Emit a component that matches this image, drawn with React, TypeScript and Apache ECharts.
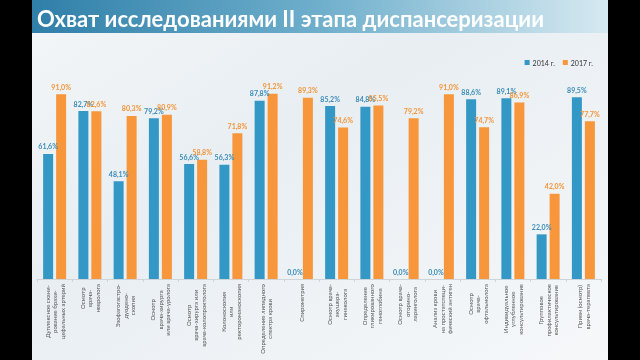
import React, { useEffect, useRef } from "react";
import * as echarts from "echarts";

const categories = [
  "Дуплексное скани-\nрование брахи-\nцефальных артерий",
  "Осмотр\nврача-\nневролога",
  "Эзофагогастро-\nдуодено-\nскопия",
  "Осмотр\nврача-хирурга\nили врача-уролога",
  "Осмотр\nврача-хирурга или\nврача-колопроктолога",
  "Колоноскопия\nили\nректороманоскопия",
  "Определение липидного\nспектра крови",
  "Спирометрия",
  "Осмотр врача-\nакушера-\nгинеколога",
  "Определение\nгликированного\nгемоглобина",
  "Осмотр врача-\nоторино-\nларинголога",
  "Анализ крови\nна простатспеци-\nфический антиген",
  "Осмотр\nврача-\nофтальмолога",
  "Индивидуальное\nуглубленное\nконсультирование",
  "Групповое\nпрофилактическое\nконсультирование",
  "Прием (осмотр)\nврача-терапевта",
];

const values2014 = [61.6, 82.7, 48.1, 79.2, 56.6, 56.3, 87.8, 0.0, 85.2, 84.8, 0.0, 0.0, 88.6, 89.1, 22.0, 89.5];
const values2017 = [91.0, 82.6, 80.3, 80.9, 58.8, 71.8, 91.2, 89.3, 74.6, 85.5, 79.2, 91.0, 74.7, 86.9, 42.0, 77.7];

const seriesNames = ["2014 г.", "2017 г."];
const title = "Охват исследованиями II этапа диспансеризации";

const BLUE = "#3498c6";
const ORANGE = "#f7963b";
const FONT = "Lato, 'Open Sans', sans-serif";

const fmt = (v: number) => v.toFixed(1).replace(".", ",") + "%";

export default function App() {
  const ref = useRef<HTMLDivElement>(null);
  useEffect(() => {
    if (!ref.current) return;
    const chart = echarts.init(ref.current, null, { renderer: "svg" });
    chart.setOption({
      animation: false,
      textStyle: { fontFamily: FONT },
      graphic: [
        { type: "rect", left: 0, top: 0, z: -10, shape: { width: 640, height: 360 }, style: { fill: "#000" } },
        {
          type: "rect", x: 32, y: 0, z: -9, shape: { width: 576, height: 360 },
          style: {
            fill: new echarts.graphic.LinearGradient(0, 0, 1, 1, [
              { offset: 0, color: "#f3f6f8" },
              { offset: 0.4, color: "#e8eef2" },
              { offset: 1, color: "#f6f8fa" },
            ]),
          },
        },
        {
          type: "rect", x: 32, y: 0, z: -8, shape: { width: 576, height: 33 },
          style: {
            fill: new echarts.graphic.LinearGradient(0, 0, 1, 0, [
              { offset: 0, color: "#2f7fa9" },
              { offset: 0.5, color: "#6fafcc" },
              { offset: 1, color: "#d6e9f1" },
            ]),
          },
        },
        {
          type: "text", x: 37, y: 18, z: 10,
          style: { text: title, fill: "#fff", font: `bold 22px ${FONT}`, textVerticalAlign: "middle" },
        },
      ],
      legend: {
        data: seriesNames,
        right: 42,
        top: 54,
        itemWidth: 5,
        itemHeight: 5,
        itemGap: 8,
        icon: "rect",
        textStyle: { fontSize: 7, color: "#333", fontFamily: FONT, padding: [0, 0, 0, -2] },
      },
      grid: { left: 37, right: 39, top: 76, bottom: 81, containLabel: false },
      xAxis: {
        type: "category",
        data: categories,
        axisLine: { lineStyle: { color: "#cfd4d8", width: 1 } },
        axisTick: { show: true, length: 3, lineStyle: { color: "#cfd4d8" } },
        axisLabel: {
          interval: 0,
          rotate: 90,
          margin: 5,
          formatter: (v: string) => v.split("\n").map((l) => `{c|${l}}`).join("\n"),
          rich: { c: { align: "center", fontSize: 6, lineHeight: 7.5, color: "#555", fontFamily: FONT } },
        },
      },
      yAxis: { type: "value", min: 0, max: 100, show: false, splitLine: { show: false } },
      series: [
        {
          name: seriesNames[0], type: "bar", data: values2014, barWidth: 10, barGap: "30%",
          itemStyle: { color: BLUE },
          label: { show: true, position: "top", distance: 4, fontSize: 7, fontWeight: "bold", color: "#3a8cb8", fontFamily: FONT, formatter: (p: any) => fmt(p.value) },
        },
        {
          name: seriesNames[1], type: "bar", data: values2017, barWidth: 10,
          itemStyle: { color: ORANGE },
          label: { show: true, position: "top", distance: 4, fontSize: 7, fontWeight: "bold", color: "#f29438", fontFamily: FONT, formatter: (p: any) => fmt(p.value) },
        },
      ],
    });
    return () => chart.dispose();
  }, []);
  return <div ref={ref} style={{ position: "fixed", left: 0, top: 0, width: 640, height: 360 }} />;
}
